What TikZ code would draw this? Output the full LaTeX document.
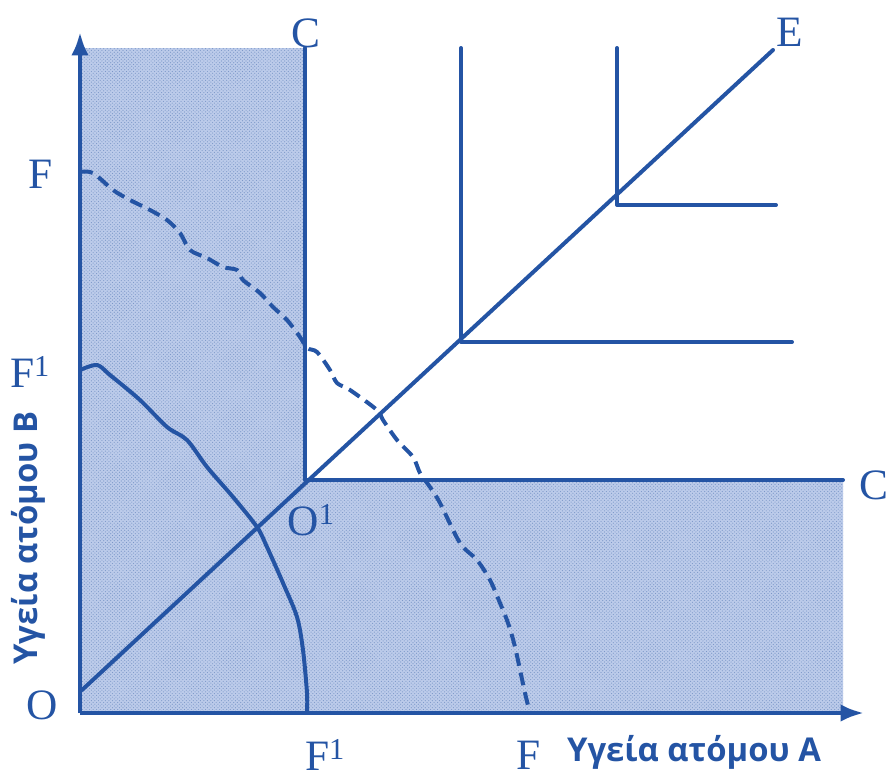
\documentclass[tikz,border=0pt]{standalone}
\usepackage{fontspec}
\setmainfont{Liberation Serif}
\newfontfamily\greeksans{Open Sans}
\usepackage{tikz}
\usetikzlibrary{
    arrows.meta,
    patterns,
    positioning
}
\definecolor{inkblue}{RGB}{36,84,164}
\definecolor{shadeblue}{RGB}{188,203,234}
\tikzstyle{axis} = [
    line width=3.8pt,
    draw=inkblue,
    -{Latex[length=20pt,width=15pt]}
]
\tikzstyle{curve} = [
    line width=3.4pt,
    draw=inkblue,
    line join=round,
    line cap=round
]
\tikzstyle{dashcurve} = [
    curve,
    line cap=butt,
    dash pattern=on 11pt off 6pt
]
\tikzstyle{letter} = [
    inner sep=0pt,
    text=inkblue,
    font=\fontsize{37}{37}\selectfont
]
\tikzstyle{axislabel} = [
    inner sep=0pt,
    text=inkblue,
    font=\greeksans\bfseries\fontsize{28}{28}\selectfont
]

\begin{document}
\begin{tikzpicture}[x=0.03cm, y=-0.03cm]
        \useasboundingbox (0,0) rectangle (890,778);

        % Key points
        \coordinate (O) at (80,713);
        \coordinate (ytip) at (80,32);
        \coordinate (xtip) at (864,713);
        \coordinate (Ctop) at (305,48);
        \coordinate (O1) at (305,480);
        \coordinate (Cright) at (843,480);
        \coordinate (diag) at (82,690);
        \coordinate (Eend) at (773,50);

        % Shaded region
        \fill[shadeblue] (80,48) -- (Ctop) -- (O1) -- (Cright) -- (843,713) -- (O) -- cycle;
        \fill[pattern=crosshatch dots, pattern color=inkblue!60] (80,48) -- (Ctop) -- (O1) -- (Cright) -- (843,713) -- (O) -- cycle;

        % Axes
        \draw[axis] (O) -- (ytip);
        \draw[axis] (O) -- (xtip);

        % Boundary C-C
        \draw[curve] (Ctop) -- (O1) -- (Cright);

        % Diagonal O-E
        \draw[curve] (diag) -- (Eend);

        % Indifference curves
        \draw[curve] (461,48) |- (792,342);
        \draw[curve] (617,48) |- (776,205);

        % Frontier F1-F1
        \draw[curve] plot[smooth, tension=0.5] coordinates {
            (80,370) (97,365) (110,375) (140,400) (167,427) (187,440)
            (207,467) (233,497) (257,527) (267,547) (283,583) (297,617)
            (303,650) (307,693) (307,712)};

        % Frontier F-F
        \draw[dashcurve] plot[smooth, tension=0.5] coordinates {
            (80,172) (93,173) (113,190) (130,200) (150,210) (167,220)
            (180,233) (190,250) (207,258) (223,267) (237,270) (243,280)
            (260,293) (273,307) (287,320) (300,337) (307,348) (317,352)
            (330,370) (337,383) (350,390) (377,410) (383,420) (397,440)
            (413,457) (420,473) (430,487) (440,503) (460,543) (477,560)
            (490,580) (500,603) (508,623) (515,647) (525,693) (530,713)};

        % Labels
        \node[letter] (labCtop) at (306,33) {C};
        \node[letter] (labCright) at (874,485) {C};
        \node[letter] (labE) at (790,32) {E};
        \node[letter] (labF) at (41,174) {F};
        \node[letter] (labF1) at (30,372) {F\textsuperscript{1}};
        \node[letter] (labO) at (42,705) {O};
        \node[letter] (labO1) at (311,520) {O\textsuperscript{1}};
        \node[letter] (labF1x) at (325,755) {F\textsuperscript{1}};
        \node[letter] (labFx) at (529,755) {F};
        \node[axislabel] (labA) at (694,752) {Υγεία ατόμου Α};
        \node[axislabel, rotate=90] (labB) at (28,538) {Υγεία ατόμου Β};
    \end{tikzpicture}
\end{document}
